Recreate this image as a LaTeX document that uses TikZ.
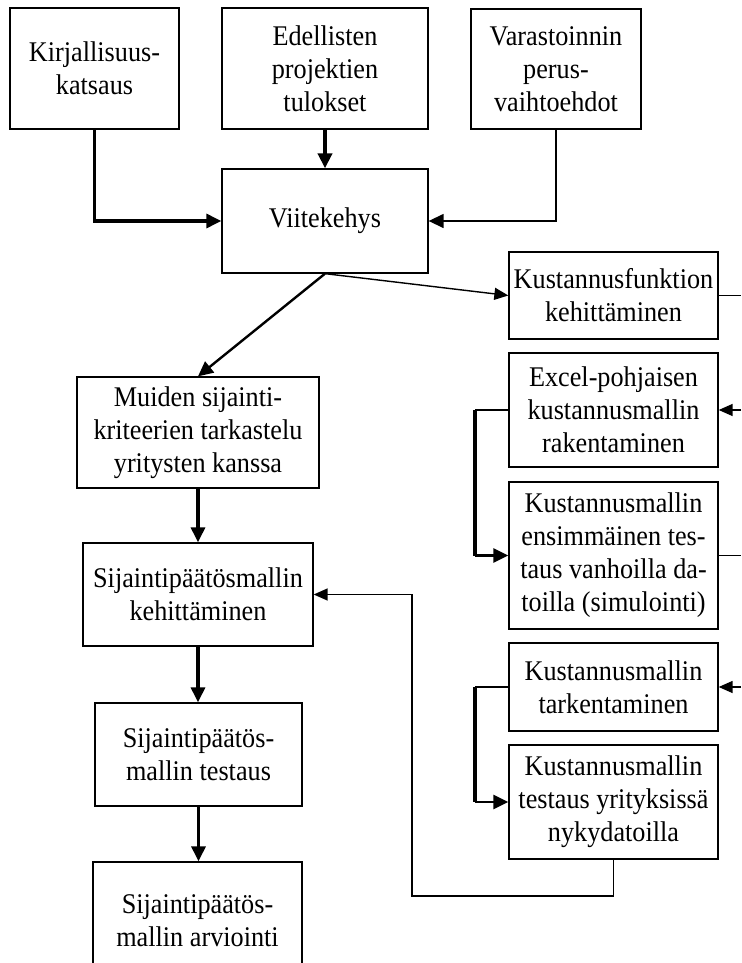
\documentclass[tikz,border=0pt]{standalone}
\usepackage{fontspec}
\setmainfont{Liberation Serif}[FakeStretch=0.92]
\usetikzlibrary{arrows.meta,calc}

\tikzset{
  box/.style={draw, line width=1.3pt, inner sep=0pt, align=center,
    font=\fontsize{28.5}{33}\selectfont},
  tip/.style={-{Triangle[length=15pt,width=14pt]}},
  smalltip/.style={-{Triangle[length=14pt,width=12pt]}},
  heavy/.style={line width=3.2pt},
  medium/.style={line width=2.4pt},
  light/.style={line width=1.4pt},
}

\begin{document}
\begin{tikzpicture}[x=1pt,y=-1pt]
\useasboundingbox (0,0) rectangle (741,963);
\clip (0,0) rectangle (741,963);

% top row: sources
\node[box, minimum width=169pt, minimum height=121pt] (kir) at (94.5,68.5) {Kirjallisuus-\\katsaus};
\node[box, minimum width=206pt, minimum height=121pt] (ede) at (325,68.5) {Edellisten\\projektien\\tulokset};
\node[box, minimum width=170pt, minimum height=120pt] (var) at (556,69) {Varastoinnin\\perus-\\vaihtoehdot};

% framework
\node[box, minimum width=206pt, minimum height=104pt] (vii) at (325,221) {Viitekehys};

% left column: location decision model
\node[box, minimum width=242pt, minimum height=111pt] (mui) at (198,432.5) {Muiden sijainti-\\kriteerien tarkastelu\\yritysten kanssa};
\node[box, minimum width=230pt, minimum height=103pt] (sk) at (198,594.5) {Sijaintipäätösmallin\\kehittäminen};
\node[box, minimum width=207pt, minimum height=103pt] (st) at (198.5,754.5) {Sijaintipäätös-\\mallin testaus};
\node[box, minimum width=209pt, minimum height=118pt] (sa) at (197.5,921) {Sijaintipäätös-\\mallin arviointi};

% right column: cost model
\node[box, minimum width=209pt, minimum height=87pt] (kus) at (613.5,295.5) {Kustannusfunktion\\kehittäminen};
\node[box, minimum width=209pt, minimum height=114pt] (exc) at (613.5,410) {Excel-pohjaisen\\kustannusmallin\\rakentaminen};
\node[box, minimum width=209pt, minimum height=147pt] (ens) at (613.5,555.5) {Kustannusmallin\\ensimmäinen tes-\\taus vanhoilla da-\\toilla (simulointi)};
\node[box, minimum width=209pt, minimum height=88pt] (tar) at (613.5,687) {Kustannusmallin\\tarkentaminen};
\node[box, minimum width=209pt, minimum height=114pt] (tes) at (613.5,802) {Kustannusmallin\\testaus yrityksissä\\nykydatoilla};

% helper points
\coordinate (edge) at (741,0);
\coordinate (bx) at (475,0);
\coordinate (fb) at (412,896);

% into the framework
\draw[heavy, tip] (kir.south) |- (vii.west);
\draw[line width=4pt, tip] (ede.south) -- (vii.north);
\draw[light, tip] (var.south) |- (vii.east);

% out of the framework
\draw[medium, tip] (vii.south) -- (mui.north);
\draw[light, smalltip] (vii.south) -- (kus.west);

% left column chain
\draw[heavy, tip] (mui.south) -- (mui.south |- sk.north);
\draw[heavy, tip] (sk.south) -- (sk.south |- st.north);
\draw[heavy, tip] (st.south) -- (st.south |- sa.north);

% brackets on the right column
\draw[light] (exc.west) -- (exc.west -| bx);
\draw[heavy] (exc.west -| bx) -- (ens.west -| bx);
\draw[medium, tip] (ens.west -| bx) -- (ens.west);
\draw[light] (tar.west) -- (tar.west -| bx);
\draw[heavy] (tar.west -| bx) -- (tes.west -| bx);
\draw[medium, tip] (tes.west -| bx) -- (tes.west);

% feedback to the location model
\draw[light, smalltip] (tes.south) |- (fb) |- (sk.east);

% connectors leaving the right edge
\draw[light] (kus.east) -- (kus.east -| edge);
\draw[light, smalltip] (exc.east -| edge) -- (exc.east);
\draw[light] (ens.east) -- (ens.east -| edge);
\draw[light, smalltip] (tar.east -| edge) -- (tar.east);
\end{tikzpicture}
\end{document}
